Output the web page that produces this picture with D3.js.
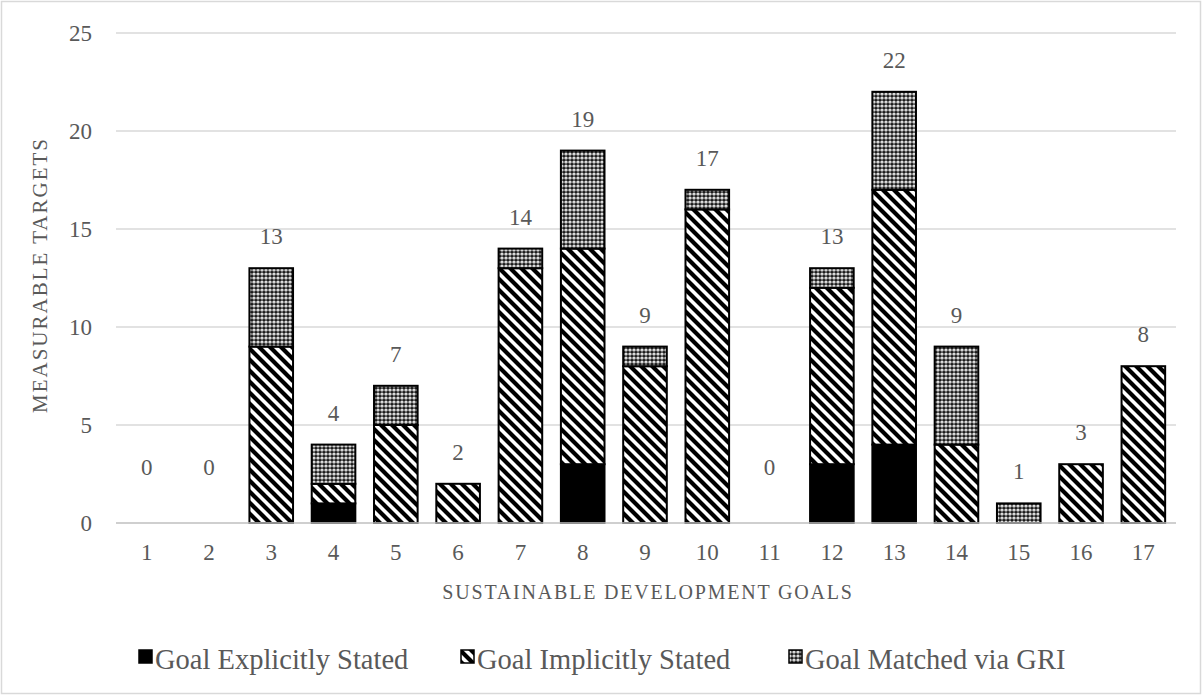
<!DOCTYPE html>
<html><head><meta charset="utf-8">
<script src="https://cdn.jsdelivr.net/npm/d3@7/dist/d3.min.js"></script>
<style>body{margin:0;background:#fff}svg{display:block}</style>
</head><body>
<svg id="c" width="1203" height="696"></svg>
<script>
const categories = ["1","2","3","4","5","6","7","8","9","10","11","12","13","14","15","16","17"];
const explicitVals = [0,0,0,1,0,0,0,3,0,0,0,3,4,0,0,0,0];
const implicitVals = [0,0,9,1,5,2,13,11,8,16,0,9,13,4,0,3,8];
const griVals      = [0,0,4,2,2,0,1,5,1,1,0,1,5,5,1,0,0];
const seriesNames = ["Goal Explicitly Stated","Goal Implicitly Stated","Goal Matched via GRI"];
const yTicks = [0,5,10,15,20,25];

const svg = d3.select("#c");
const font = "Liberation Serif, Times New Roman, serif";
const txt = "#595959";

svg.append("rect").attr("x",1.5).attr("y",1.5).attr("width",1199).attr("height",692)
  .attr("fill","#fff").attr("stroke","#d9d9d9").attr("stroke-width",1.5);

const defs = svg.append("defs");
const pd = defs.append("pattern").attr("id","diag").attr("patternUnits","userSpaceOnUse")
  .attr("width",11).attr("height",11);
pd.append("rect").attr("width",11).attr("height",11).attr("fill","#fff");
pd.append("path").attr("d","M-2,-2 L13,13 M-2,9 L2,13 M9,-2 L13,2").attr("stroke","#000").attr("stroke-width",4.2);
const pg = defs.append("pattern").attr("id","grid").attr("patternUnits","userSpaceOnUse")
  .attr("width",4).attr("height",4);
pg.append("rect").attr("width",4).attr("height",4).attr("fill","#1a1a1a");
pg.append("circle").attr("cx",2).attr("cy",2).attr("r",1.6).attr("fill","#fff");
pg.append("circle").attr("cx",2).attr("cy",2).attr("r",0.55).attr("fill","#555");

const x = d3.scaleBand().domain(categories).range([115.5,1174.5]).paddingInner(0.3).paddingOuter(0.15);
const y = d3.scaleLinear().domain([0,25]).range([523,33]);

svg.append("g").selectAll("line").data(yTicks.filter(d=>d>0)).join("line")
  .attr("x1",116).attr("x2",1176).attr("y1",d=>y(d)).attr("y2",d=>y(d))
  .attr("stroke","#d9d9d9").attr("stroke-width",1.3);

const ya = svg.append("g").attr("transform","translate(116,0)")
  .call(d3.axisLeft(y).tickValues(yTicks).tickSize(0).tickPadding(24));
ya.select(".domain").remove();
ya.selectAll("text").attr("font-family",font).attr("font-size",23).attr("fill",txt);

const rows = categories.map((c,i)=>({cat:c, e:explicitVals[i], im:implicitVals[i], g:griVals[i]}));
const stack = d3.stack().keys(["e","im","g"])(rows);
const fills = ["#000","url(#diag)","url(#grid)"];

stack.forEach((layer,li)=>{
  svg.append("g").selectAll("rect").data(layer.filter(d=>d[1]-d[0]>0)).join("rect")
    .attr("x",d=>x(d.data.cat)).attr("width",x.bandwidth())
    .attr("y",d=>y(d[1])).attr("height",d=>y(d[0])-y(d[1]))
    .attr("fill",fills[li]).attr("stroke","#000").attr("stroke-width",2);
});

svg.append("line").attr("x1",116).attr("x2",1176).attr("y1",y(0)).attr("y2",y(0))
  .attr("stroke","#bfbfbf").attr("stroke-width",1.5);
const xa = svg.append("g").attr("transform",`translate(0,${y(0)})`)
  .call(d3.axisBottom(x).tickSize(0).tickPadding(21));
xa.select(".domain").remove();
xa.selectAll("text").attr("font-family",font).attr("font-size",23).attr("fill",txt);

svg.append("g").selectAll("text").data(rows).join("text")
  .attr("x",d=>x(d.cat)+x.bandwidth()/2)
  .attr("y",d=>{const t=d.e+d.im+d.g; return t>0 ? y(t)-24 : y(t)-48;})
  .attr("text-anchor","middle").attr("font-family",font).attr("font-size",23).attr("fill",txt)
  .text(d=>d.e+d.im+d.g);

svg.append("text").attr("transform","translate(47,275) rotate(-90)")
  .attr("text-anchor","middle").attr("font-family",font).attr("font-size",21)
  .attr("letter-spacing",2).attr("fill",txt)
  .text("MEASURABLE TARGETS");
svg.append("text").attr("x",648).attr("y",599)
  .attr("text-anchor","middle").attr("font-family",font).attr("font-size",20)
  .attr("letter-spacing",1.8).attr("fill",txt)
  .text("SUSTAINABLE DEVELOPMENT GOALS");

const legX = [138,460,788];
const lg = svg.append("g").selectAll("g").data(seriesNames).join("g")
  .attr("transform",(d,i)=>`translate(${legX[i]},650)`);
lg.append("rect").attr("x",1).attr("y",0).attr("width",13).attr("height",13)
  .attr("fill",(d,i)=>fills[i]).attr("stroke","#000").attr("stroke-width",1.5);
lg.append("text").attr("x",17).attr("y",19).attr("font-family",font).attr("font-size",28.5).attr("fill",txt)
  .text(d=>d);
</script>
</body></html>
